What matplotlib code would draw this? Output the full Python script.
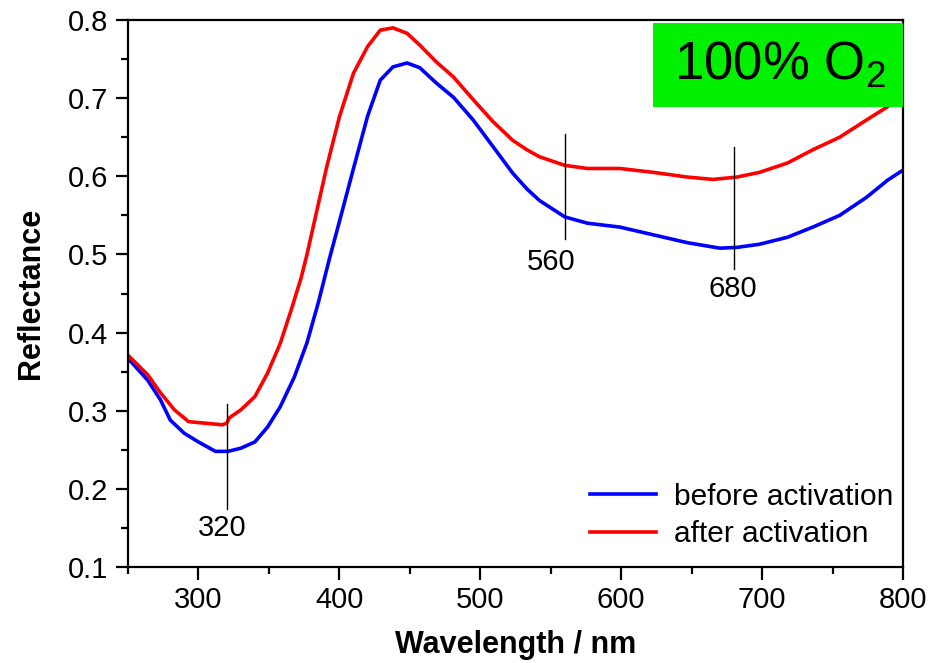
import matplotlib
matplotlib.use("Agg")
import matplotlib.pyplot as plt
from matplotlib.patches import Rectangle
from matplotlib.ticker import MultipleLocator, FormatStrFormatter

plt.rcParams['font.family'] = ['Liberation Sans', 'DejaVu Sans']
plt.rcParams['mathtext.fontset'] = 'custom'
plt.rcParams['mathtext.rm'] = 'Liberation Sans'
plt.rcParams['mathtext.it'] = 'Liberation Sans:italic'

# Diffuse reflectance spectra (wavelength in nm)
wl_before = [250, 264, 273, 280, 290, 300, 312, 321, 330, 340, 349, 358, 368,
             377, 385, 393, 400, 410, 420, 429, 438, 448, 457, 469, 481, 495,
             509, 523, 533, 542, 560, 576, 599, 623, 647, 670, 682, 698, 718,
             736, 755, 774, 789, 800]
refl_before = [0.367, 0.339, 0.314, 0.288, 0.271, 0.260, 0.248, 0.248, 0.252,
               0.260, 0.279, 0.305, 0.343, 0.387, 0.438, 0.495, 0.542, 0.610,
               0.677, 0.723, 0.740, 0.745, 0.739, 0.719, 0.701, 0.672, 0.638,
               0.604, 0.584, 0.569, 0.548, 0.540, 0.535, 0.525, 0.515, 0.508,
               0.509, 0.513, 0.522, 0.535, 0.550, 0.573, 0.595, 0.608]

wl_after = [250, 264, 273, 283, 293, 305, 317, 320, 322, 330, 340, 349, 358,
            366, 373, 377, 382, 391, 400, 410, 420, 429, 438, 448, 457, 469,
            481, 495, 509, 523, 533, 542, 560, 576, 599, 623, 647, 665, 682,
            698, 718, 736, 755, 774, 789, 800]
refl_after = [0.371, 0.346, 0.323, 0.301, 0.286, 0.284, 0.282, 0.284, 0.291,
              0.301, 0.318, 0.348, 0.386, 0.430, 0.471, 0.500, 0.540, 0.612,
              0.676, 0.732, 0.766, 0.787, 0.790, 0.783, 0.768, 0.746, 0.727,
              0.698, 0.670, 0.646, 0.634, 0.625, 0.614, 0.610, 0.610, 0.605,
              0.599, 0.596, 0.599, 0.605, 0.617, 0.634, 0.650, 0.672, 0.689,
              0.713]

# Marked band positions with marker line extent and label placement
marks = [320, 560, 680]
mark_lo = [0.174, 0.520, 0.481]
mark_hi = [0.309, 0.654, 0.6375]
label_x = [316.5, 550, 679.4]
label_y = [0.150, 0.490, 0.456]

fig = plt.figure(figsize=(9.31, 6.63), dpi=100)
ax = fig.add_axes([0.1375, 0.1448, 0.8325, 0.825])

ax.plot(wl_before, refl_before, color='#0000ff', lw=2.6, label='before activation')
ax.plot(wl_after, refl_after, color='#ff0000', lw=2.6, label='after activation')

for m, lo, hi, lx, ly in zip(marks, mark_lo, mark_hi, label_x, label_y):
    ax.plot([m, m], [lo, hi], color='black', lw=1.0)
    ax.text(lx, ly, str(m), ha='center', va='center', fontsize=21)

# Gas atmosphere tag
ax.add_patch(Rectangle((622.6, 0.689), 177.4, 0.107, facecolor='#00f000',
                       edgecolor='none', zorder=3))
ax.text(712.7, 0.742, '100% O$_2$', ha='center', va='center', fontsize=38,
        zorder=4)

ax.set_xlim(250, 800)
ax.set_ylim(0.1, 0.8)
ax.xaxis.set_major_locator(MultipleLocator(100))
ax.xaxis.set_minor_locator(MultipleLocator(50))
ax.yaxis.set_major_locator(MultipleLocator(0.1))
ax.yaxis.set_minor_locator(MultipleLocator(0.05))
ax.yaxis.set_major_formatter(FormatStrFormatter('%.1f'))

for s in ax.spines.values():
    s.set_linewidth(1.6)
ax.tick_params(which='both', direction='out', width=1.6, labelsize=21,
               top=False, right=False)
ax.tick_params(which='major', length=9, pad=5)
ax.tick_params(which='minor', length=5)

ax.set_xlabel('Wavelength / nm', fontsize=22, fontweight='bold', labelpad=11)
ax.set_ylabel('Reflectance', fontsize=22, fontweight='bold', labelpad=16)

ax.legend(loc='center', bbox_to_anchor=(0.792, 0.094), frameon=False,
          fontsize=21.5, handlelength=2.2, handletextpad=0.6,
          labelspacing=0.32)

fig.savefig('out.png', dpi=100)
